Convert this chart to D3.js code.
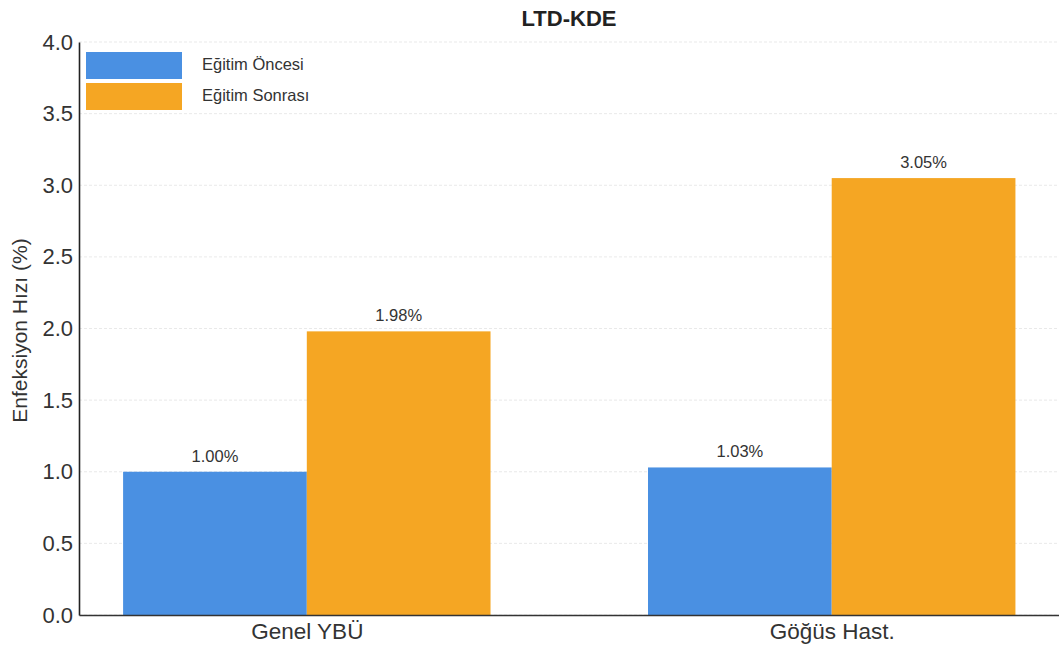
<!DOCTYPE html>
<html>
<head>
<meta charset="utf-8">
<script src="https://cdn.jsdelivr.net/npm/d3@7/dist/d3.min.js"></script>
<style>
  html, body { margin: 0; padding: 0; background: #fff; }
  svg { display: block; font-family: "Liberation Sans", Arial, sans-serif; }
</style>
</head>
<body>
<svg id="chart" width="1059" height="649"></svg>
<script>
const categories = ["Genel YBÜ", "Göğüs Hast."];
const seriesNames = ["Eğitim Öncesi", "Eğitim Sonrası"];
const seriesColors = ["#4A90E2", "#F5A623"];
const beforeValues = [1.00, 1.03];
const afterValues = [1.98, 3.05];
const yTicks = [0.0, 0.5, 1.0, 1.5, 2.0, 2.5, 3.0, 3.5, 4.0];

const series = [beforeValues, afterValues];
const W = 1059, H = 649;
const m = { left: 79, right: 0, top: 42, bottom: 34 };

const svg = d3.select("#chart");

// Category positions in data units: groups at 0 and 1, bar width 0.35
const barW = 0.35;
const x = d3.scaleLinear().domain([-0.434, 1.433]).range([m.left, W - m.right]);
const y = d3.scaleLinear().domain([0, 4.0]).range([H - m.bottom, m.top]);

// Dashed horizontal grid
svg.append("g")
  .selectAll("line")
  .data(yTicks)
  .join("line")
  .attr("x1", m.left).attr("x2", W)
  .attr("y1", d => y(d)).attr("y2", d => y(d))
  .attr("stroke", "#e3e3e3")
  .attr("stroke-width", 0.8)
  .attr("stroke-dasharray", "3,2");

// Bars and value labels
series.forEach((vals, si) => {
  const offset = si === 0 ? -barW : 0;
  svg.append("g")
    .selectAll("rect")
    .data(vals)
    .join("rect")
    .attr("x", (d, i) => x(i + offset))
    .attr("width", x(barW) - x(0))
    .attr("y", d => y(d))
    .attr("height", d => y(0) - y(d))
    .attr("fill", seriesColors[si]);

  svg.append("g")
    .selectAll("text")
    .data(vals)
    .join("text")
    .attr("x", (d, i) => x(i + offset + barW / 2))
    .attr("y", d => y(d) - 10)
    .attr("text-anchor", "middle")
    .attr("font-size", 16.5)
    .attr("fill", "#333")
    .text(d => d.toFixed(2) + "%");
});

// Y axis
const yAxis = svg.append("g")
  .attr("transform", `translate(${m.left},0)`)
  .call(d3.axisLeft(y).tickValues(yTicks).tickFormat(d3.format(".1f")).tickSize(0).tickPadding(6));
yAxis.select(".domain").attr("stroke", "#222").attr("stroke-width", 1.6);
yAxis.selectAll("text").attr("font-size", 22).attr("fill", "#333")
  .attr("font-family", "Liberation Sans, Arial, sans-serif");

// X axis
const xAxis = svg.append("g")
  .attr("transform", `translate(0,${y(0)})`)
  .call(d3.axisBottom(x).tickValues([0, 1]).tickFormat(i => categories[i]).tickSize(0).tickPadding(8));
xAxis.select(".domain").attr("stroke", "#333").attr("stroke-width", 1.6);
xAxis.selectAll("text").attr("font-size", 22.5).attr("fill", "#333")
  .attr("font-family", "Liberation Sans, Arial, sans-serif");

// Title
svg.append("text")
  .attr("x", 569).attr("y", 26)
  .attr("text-anchor", "middle")
  .attr("font-size", 22).attr("font-weight", "bold").attr("fill", "#222")
  .text("LTD-KDE");

// Y label
svg.append("text")
  .attr("transform", `translate(27,${(m.top + H - m.bottom) / 2 + 2}) rotate(-90)`)
  .attr("text-anchor", "middle")
  .attr("font-size", 21).attr("fill", "#333")
  .text("Enfeksiyon Hızı (%)");

// Legend
const legend = svg.append("g").attr("transform", "translate(86,52)");
seriesNames.forEach((name, i) => {
  legend.append("rect")
    .attr("x", 0).attr("y", i * 31)
    .attr("width", 96).attr("height", 27)
    .attr("fill", seriesColors[i]);
  legend.append("text")
    .attr("x", 116).attr("y", i * 31 + 14)
    .attr("dominant-baseline", "middle")
    .attr("font-size", 16.5).attr("fill", "#333")
    .text(name);
});
</script>
</body>
</html>
